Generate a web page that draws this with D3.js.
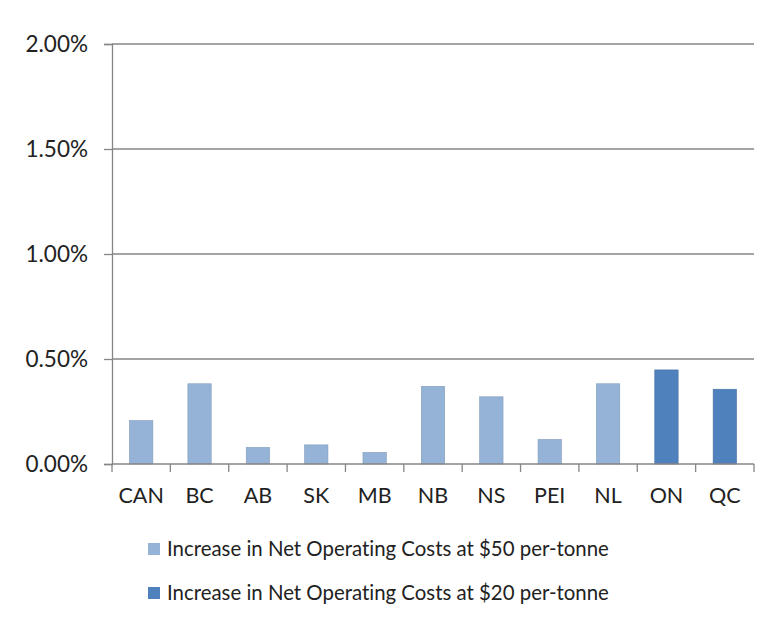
<!DOCTYPE html>
<html>
<head>
<meta charset="utf-8">
<script src="https://cdn.jsdelivr.net/npm/d3@7"></script>
<style>
  body { margin: 0; background: #fff; }
  text { font-family: Lato, 'Open Sans', sans-serif; fill: #222; font-variant-ligatures: none; }
</style>
</head>
<body>
<div class="canvas"></div>
<script>
const provinces = ['CAN', 'BC', 'AB', 'SK', 'MB', 'NB', 'NS', 'PEI', 'NL', 'ON', 'QC'];
const cost50 = [0.00207, 0.00382, 0.00079, 0.00091, 0.00055, 0.00370, 0.00320, 0.00117, 0.00382, null, null];
const cost20 = [null, null, null, null, null, null, null, null, null, 0.00448, 0.00356];
const yTicks = [0, 0.005, 0.01, 0.015, 0.02];
const seriesNames = ['Increase in Net Operating Costs at $50 per-tonne', 'Increase in Net Operating Costs at $20 per-tonne'];

const dims = { width: 777, height: 621, left: 112, right: 754, top: 44, bottom: 464 };
const colours = ['#95b3d7', '#4f81bd'];

const svg = d3.select('.canvas')
    .append('svg')
    .attr('width', dims.width)
    .attr('height', dims.height);

const x = d3.scaleBand()
    .domain(provinces)
    .range([dims.left, dims.right])
    .paddingInner(0.6)
    .paddingOuter(0.3);

const xTicks = d3.scaleBand().domain(provinces).range([dims.left, dims.right]);

const y = d3.scaleLinear()
    .domain([0, 0.02])
    .range([dims.bottom, dims.top]);

const pct = d3.format('.2%');

// gridlines
svg.append('g')
    .selectAll('line')
    .data(yTicks.slice(1))
    .join('line')
    .attr('x1', dims.left)
    .attr('x2', dims.right)
    .attr('y1', d => y(d))
    .attr('y2', d => y(d))
    .attr('stroke', '#868686')
    .attr('stroke-width', 1.3);

// y axis
const yAxis = svg.append('g')
    .attr('transform', `translate(${dims.left},0)`)
    .call(d3.axisLeft(y).tickValues(yTicks).tickFormat(pct).tickSize(8).tickPadding(16));
yAxis.selectAll('line, path').attr('stroke', '#868686').attr('stroke-width', 1.3);
yAxis.selectAll('text').style('font-size', '22.5px').attr('fill', '#222');

// bars
const series = [cost50, cost20];
series.forEach((vals, s) => {
    svg.append('g')
        .selectAll('rect')
        .data(provinces.map((p, i) => ({ p, v: vals[i] })).filter(d => d.v != null))
        .join('rect')
        .attr('x', d => x(d.p))
        .attr('width', x.bandwidth())
        .attr('y', d => y(d.v))
        .attr('height', d => y(0) - y(d.v))
        .attr('fill', colours[s])
        .attr('stroke', d3.color(colours[s]).darker(0.4))
        .attr('stroke-width', 0.6);
});

// x axis
const xAxis = svg.append('g')
    .attr('transform', `translate(0,${dims.bottom})`);
xAxis.append('line')
    .attr('x1', dims.left).attr('x2', dims.right)
    .attr('stroke', '#868686').attr('stroke-width', 1.3);
xAxis.selectAll('.tick')
    .data(provinces.map(p => xTicks(p)).concat([dims.right]))
    .join('line')
    .attr('x1', d => d).attr('x2', d => d)
    .attr('y1', 0).attr('y2', 8)
    .attr('stroke', '#868686').attr('stroke-width', 1.3);
xAxis.selectAll('.lab')
    .data(provinces)
    .join('text')
    .attr('x', d => xTicks(d) + xTicks.bandwidth() / 2)
    .attr('y', 39)
    .attr('text-anchor', 'middle')
    .style('font-size', '21.5px')
    .text(d => d);

// legend
const legend = svg.append('g');
seriesNames.forEach((name, i) => {
    const cy = 549 + i * 44;
    legend.append('rect')
        .attr('x', 148).attr('y', cy - 6)
        .attr('width', 12).attr('height', 12)
        .attr('fill', colours[i]);
    legend.append('text')
        .attr('x', 167).attr('y', cy)
        .attr('dy', '0.35em')
        .style('font-size', '20.4px')
        .text(name);
});
</script>
</body>
</html>
